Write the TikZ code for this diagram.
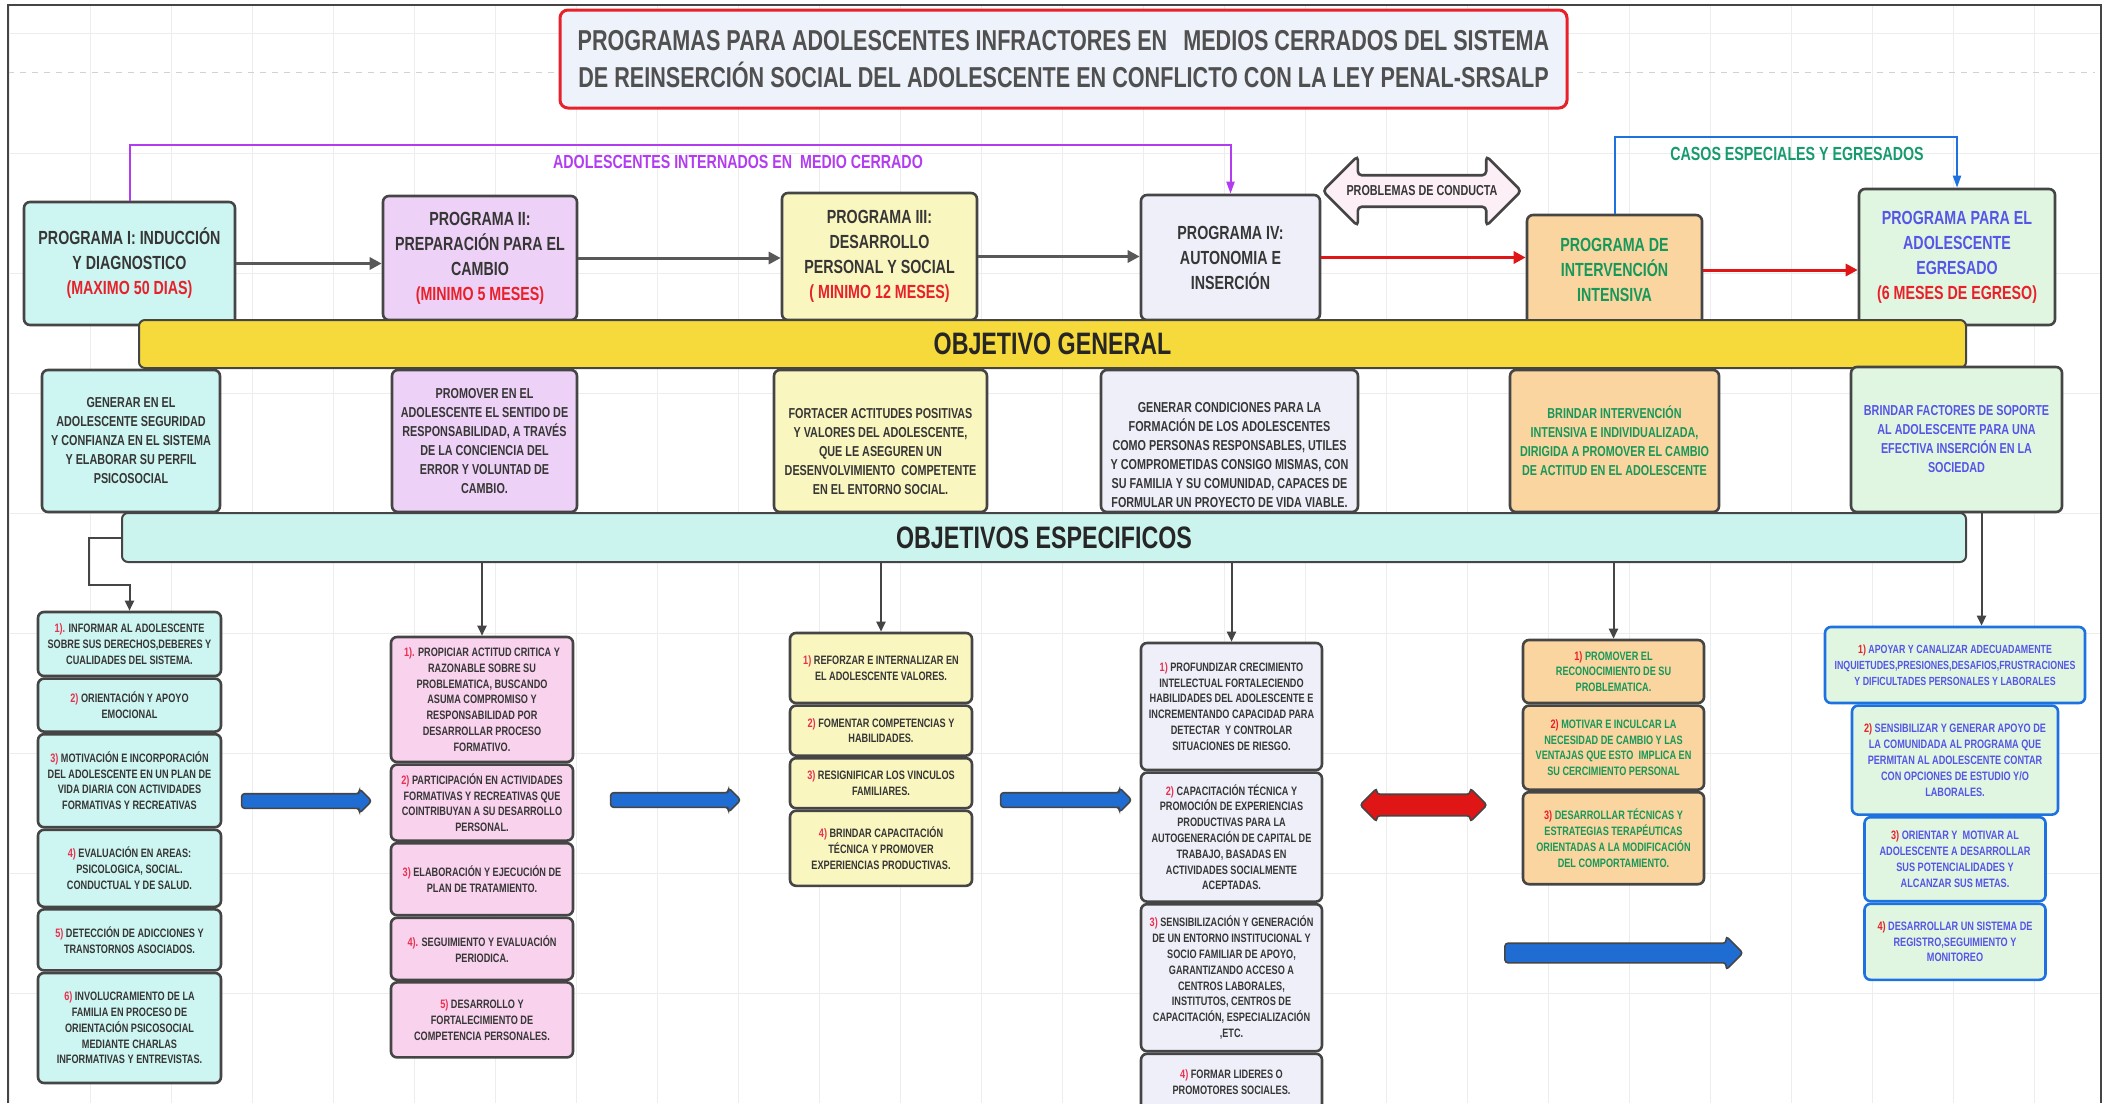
\documentclass[tikz,border=0pt]{standalone}
\usepackage{fontspec}
\setmainfont{Liberation Sans}[FakeStretch=0.75]
\usetikzlibrary{positioning,shapes.arrows,arrows.meta}

\definecolor{edgec}{HTML}{454545}
\definecolor{txt}{HTML}{363636}
\definecolor{tittxt}{HTML}{505050}
\definecolor{tred}{HTML}{E8202A}
\definecolor{nred}{HTML}{E8304F}
\definecolor{tgreen}{HTML}{17985A}
\definecolor{tteal}{HTML}{169A70}
\definecolor{tblue}{HTML}{5555E8}
\definecolor{cyanbox}{HTML}{CDF5F1}
\definecolor{lilabox}{HTML}{EDD1F6}
\definecolor{pinkbox}{HTML}{F9D3EE}
\definecolor{yelbox}{HTML}{FAF6BF}
\definecolor{lavbox}{HTML}{EFEFFA}
\definecolor{orabox}{HTML}{FAD59F}
\definecolor{grebox}{HTML}{E1F6E1}
\definecolor{titbox}{HTML}{EEF2FA}
\definecolor{goldbar}{HTML}{F6D93A}
\definecolor{cyanbar}{HTML}{CBF4EF}
\definecolor{pinkarrow}{HTML}{FCEFF6}
\definecolor{lineviolet}{HTML}{B23CF0}
\definecolor{lineblue}{HTML}{1E72E0}
\definecolor{arrblue}{HTML}{1F6CD2}
\definecolor{arrred}{HTML}{E01515}
\definecolor{gridc}{HTML}{EDEDED}

\newcommand{\titfont}{\bfseries\fontsize{14.4}{18.5}\selectfont}
\newcommand{\progfont}{\bfseries\fontsize{9.5}{12.5}\selectfont}
\newcommand{\genfont}{\bfseries\fontsize{7.2}{9.5}\selectfont}
\newcommand{\specfont}{\bfseries\fontsize{6.1}{7.9}\selectfont}
\newcommand{\barfont}{\bfseries\fontsize{15.5}{17}\selectfont}
\newcommand{\labfont}{\bfseries\fontsize{9.5}{11}\selectfont}
\newcommand{\numred}[1]{\textcolor{nred}{#1}}

\tikzset{
  gridline/.style={draw=gridc, line width=0.5pt},
  box/.style={draw=edgec, line width=1.3pt, rounded corners=3pt, align=center,
    text=txt, inner sep=1pt},
  prog/.style={box, font=\progfont},
  gen/.style={box, font=\genfont, minimum height=71pt},
  spec/.style={box, font=\specfont},
  bar/.style={box, font=\barfont, line width=1pt, text=black!85},
  lab/.style={font=\labfont, inner sep=1pt},
  flow/.style={draw=edgec!90, line width=1.5pt, -{Triangle[length=6pt,width=6pt]}},
  redflow/.style={flow, draw=arrred, -{Triangle[length=6pt,width=6pt]}},
  route/.style={line width=1pt, -{Triangle[length=6pt,width=4pt]}},
  down/.style={draw=edgec, line width=1pt, -{Triangle[length=5pt,width=4.5pt]}},
  blockarrow/.style={single arrow, draw=edgec, line width=0.8pt, fill=arrblue,
    rounded corners=1.5pt, inner sep=3.25pt, single arrow head extend=2.5pt},
  twoarrow/.style={double arrow, draw=edgec, line width=0.8pt, fill=arrred,
    rounded corners=1.5pt, inner sep=5pt, double arrow head extend=3pt}
}

\begin{document}
\begin{tikzpicture}[x=0.5pt,y=-0.5pt]
\useasboundingbox (0,0) rectangle (2107,1103);

% background grid and frame
\foreach \gx in {9,90,...,2100}
  \draw[gridline] (\gx,5) -- (\gx,1103);
\foreach \gy in {33,153,...,1100}
  \draw[gridline] (8,\gy) -- (2101,\gy);
\draw[gridline, draw=gray!35, dashed] (8,72) -- (555,72);
\draw[gridline, draw=gray!35, dashed] (1577,72) -- (2095,72);
\draw[draw=edgec, line width=1pt] (8,1103) -- (8,5) -- (2101,5) -- (2101,1103);

% title
\node[draw=tred, line width=1.5pt, rounded corners=4pt, fill=titbox, text=tittxt,
  font=\titfont, align=center, minimum width=503.5pt, minimum height=49pt]
  (title) at (1063.5,59)
  {PROGRAMAS PARA ADOLESCENTES INFRACTORES EN\hspace{8pt}MEDIOS CERRADOS DEL SISTEMA\\
   DE REINSERCIÓN SOCIAL DEL ADOLESCENTE EN CONFLICTO CON LA LEY PENAL-SRSALP};

% programas
\node[prog, fill=cyanbox, minimum width=105.5pt, minimum height=61.5pt] (p1) at (129.5,263.5)
  {PROGRAMA I: INDUCCIÓN\\Y DIAGNOSTICO\\\textcolor{tred}{(MAXIMO 50 DIAS)}};
\node[prog, fill=lilabox, minimum width=97pt, minimum height=62pt] (p2) at (480,258)
  {PROGRAMA II:\\PREPARACIÓN PARA EL\\CAMBIO\\\textcolor{tred}{(MINIMO 5 MESES)}};
\node[prog, fill=yelbox, minimum width=97.5pt, minimum height=63.5pt] (p3) at (879.5,256.5)
  {PROGRAMA III:\\DESARROLLO\\PERSONAL Y SOCIAL\\\textcolor{tred}{( MINIMO 12 MESES)}};
\node[prog, fill=lavbox, minimum width=89.5pt, minimum height=62.5pt] (p4) at (1230.5,257.5)
  {PROGRAMA IV:\\AUTONOMIA E\\INSERCIÓN};
\node[prog, fill=orabox, text=tgreen, minimum width=87.5pt, minimum height=55pt] (p5) at (1614.5,270)
  {PROGRAMA DE\\INTERVENCIÓN\\INTENSIVA};
\node[prog, fill=grebox, text=tblue, minimum width=98pt, minimum height=68pt] (p6) at (1957,257)
  {PROGRAMA PARA EL\\ADOLESCENTE\\EGRESADO\\\textcolor{tred}{(6 MESES DE EGRESO)}};

\node[double arrow, draw=edgec, line width=1.3pt, fill=pinkarrow, rounded corners=2pt,
  minimum height=83pt, minimum width=35pt, double arrow head extend=8pt,
  font=\bfseries\fontsize{7.2}{8}\selectfont, text=txt] (conducta) at (1422,191)
  {PROBLEMAS DE CONDUCTA};

\draw[flow] (p1.east) -- (p1.east -| p2.west);
\draw[flow] (p2.east) -- (p2.east -| p3.west);
\draw[flow] (p3.east) -- (p3.east -| p4.west);
\draw[redflow] (p4.east) -- (p4.east -| p5.west);
\draw[redflow] (p5.east) -- (p5.east -| p6.west);

\draw[route, draw=lineviolet] (p1.north) -- ++(0,-56) -| (p4.north);
\node[lab, text=lineviolet] (internados) at (738,162) {ADOLESCENTES INTERNADOS EN\ \ MEDIO CERRADO};
\draw[route, draw=lineblue] (p5.north) -- ++(0,-77) -| (p6.north);
\node[lab, text=tteal] (casos) at (1797,154) {CASOS ESPECIALES Y EGRESADOS};

% objetivo general
\node[bar, fill=goldbar, minimum width=913.5pt, minimum height=24pt] (og) at (1052.5,344)
  {OBJETIVO GENERAL};

\node[gen, fill=cyanbox, minimum width=89pt] (g1) at (131,441)
  {GENERAR EN EL\\ADOLESCENTE SEGURIDAD\\Y CONFIANZA EN EL SISTEMA\\Y ELABORAR SU PERFIL\\PSICOSOCIAL};
\node[gen, fill=lilabox, minimum width=92.5pt] (g2) at (484.5,441)
  {PROMOVER EN EL\\ADOLESCENTE EL SENTIDO DE\\RESPONSABILIDAD, A TRAVÉS\\DE LA CONCIENCIA DEL\\ERROR Y VOLUNTAD DE\\CAMBIO.};
\node[gen, fill=yelbox, minimum width=106.5pt] (g3) at (880.5,441)
  {\rule{0pt}{16pt}FORTACER ACTITUDES POSITIVAS\\Y VALORES DEL ADOLESCENTE,\\QUE LE ASEGUREN UN\\DESENVOLVIMIENTO\ \ COMPETENTE\\EN EL ENTORNO SOCIAL.};
\node[gen, fill=lavbox, minimum width=128.5pt] (g4) at (1229.5,441)
  {\rule{0pt}{19pt}GENERAR CONDICIONES PARA LA\\FORMACIÓN DE LOS ADOLESCENTES\\COMO PERSONAS RESPONSABLES, UTILES\\Y COMPROMETIDAS CONSIGO MISMAS, CON\\SU FAMILIA Y SU COMUNIDAD, CAPACES DE\\FORMULAR UN PROYECTO DE VIDA VIABLE.};
\node[gen, fill=orabox, text=tgreen, minimum width=104.5pt] (g5) at (1614.5,441)
  {BRINDAR INTERVENCIÓN\\INTENSIVA E INDIVIDUALIZADA,\\DIRIGIDA A PROMOVER EL CAMBIO\\DE ACTITUD EN EL ADOLESCENTE};
\node[gen, fill=grebox, text=tblue, minimum width=105.5pt, minimum height=72.5pt] (g6) at (1956.5,439.5)
  {BRINDAR FACTORES DE SOPORTE\\AL ADOLESCENTE PARA UNA\\EFECTIVA INSERCIÓN EN LA\\SOCIEDAD};

% objetivos especificos
\node[bar, fill=cyanbar, minimum width=922pt, minimum height=24.5pt] (es) at (1044,537.5)
  {OBJETIVOS ESPECIFICOS};

% columna 1
\node[spec, fill=cyanbox, minimum width=91.5pt, minimum height=32pt] (s1a) at (129.5,644)
  {\numred{1).} INFORMAR AL ADOLESCENTE\\SOBRE SUS DERECHOS,DEBERES Y\\CUALIDADES DEL SISTEMA.};
\node[spec, fill=cyanbox, minimum width=91.5pt, minimum height=26.5pt, below=0pt of s1a] (s1b)
  {\numred{2)} ORIENTACIÓN Y APOYO\\EMOCIONAL};
\node[spec, fill=cyanbox, minimum width=91.5pt, minimum height=46.5pt, below=0pt of s1b] (s1c)
  {\numred{3)} MOTIVACIÓN E INCORPORACIÓN\\DEL ADOLESCENTE EN UN PLAN DE\\VIDA DIARIA CON ACTIVIDADES\\FORMATIVAS Y RECREATIVAS};
\node[spec, fill=cyanbox, minimum width=91.5pt, minimum height=38.5pt, below=0pt of s1c] (s1d)
  {\numred{4)} EVALUACIÓN EN AREAS:\\PSICOLOGICA, SOCIAL.\\CONDUCTUAL Y DE SALUD.};
\node[spec, fill=cyanbox, minimum width=91.5pt, minimum height=30.5pt, below=0pt of s1d] (s1e)
  {\numred{5)} DETECCIÓN DE ADICCIONES Y\\TRANSTORNOS ASOCIADOS.};
\node[spec, fill=cyanbox, minimum width=91.5pt, minimum height=55pt, below=0pt of s1e] (s1f)
  {\numred{6)} INVOLUCRAMIENTO DE LA\\FAMILIA EN PROCESO DE\\ORIENTACIÓN PSICOSOCIAL\\MEDIANTE CHARLAS\\INFORMATIVAS Y ENTREVISTAS.};

% columna 2
\node[spec, fill=pinkbox, minimum width=91pt, minimum height=62.5pt] (s2a) at (482,699.5)
  {\numred{1).} PROPICIAR ACTITUD CRITICA Y\\RAZONABLE SOBRE SU\\PROBLEMATICA, BUSCANDO\\ASUMA COMPROMISO Y\\RESPONSABILIDAD POR\\DESARROLLAR PROCESO\\FORMATIVO.};
\node[spec, fill=pinkbox, minimum width=91pt, minimum height=38pt, below=0pt of s2a] (s2b)
  {\numred{2)} PARTICIPACIÓN EN ACTIVIDADES\\FORMATIVAS Y RECREATIVAS QUE\\COINTRIBUYAN A SU DESARROLLO\\PERSONAL.};
\node[spec, fill=pinkbox, minimum width=91pt, minimum height=36pt, below=0pt of s2b] (s2c)
  {\numred{3)} ELABORACIÓN Y EJECUCIÓN DE\\PLAN DE TRATAMIENTO.};
\node[spec, fill=pinkbox, minimum width=91pt, minimum height=31pt, below=0pt of s2c] (s2d)
  {\numred{4).} SEGUIMIENTO Y EVALUACIÓN\\PERIODICA.};
\node[spec, fill=pinkbox, minimum width=91pt, minimum height=37.5pt, below=0pt of s2d] (s2e)
  {\numred{5)} DESARROLLO Y\\FORTALECIMIENTO DE\\COMPETENCIA PERSONALES.};

% columna 3
\node[spec, fill=yelbox, minimum width=91pt, minimum height=35pt] (s3a) at (881,668)
  {\numred{1)} REFORZAR E INTERNALIZAR EN\\EL ADOLESCENTE VALORES.};
\node[spec, fill=yelbox, minimum width=91pt, minimum height=25pt, below=0pt of s3a] (s3b)
  {\numred{2)} FOMENTAR COMPETENCIAS Y\\HABILIDADES.};
\node[spec, fill=yelbox, minimum width=91pt, minimum height=25pt, below=0pt of s3b] (s3c)
  {\numred{3)} RESIGNIFICAR LOS VINCULOS\\FAMILIARES.};
\node[spec, fill=yelbox, minimum width=91pt, minimum height=37.5pt, below=0pt of s3c] (s3d)
  {\numred{4)} BRINDAR CAPACITACIÓN\\TÉCNICA Y PROMOVER\\EXPERIENCIAS PRODUCTIVAS.};

% columna 4
\node[spec, fill=lavbox, minimum width=90.5pt, minimum height=63.5pt] (s4a) at (1231.5,706.5)
  {\numred{1)} PROFUNDIZAR CRECIMIENTO\\INTELECTUAL FORTALECIENDO\\HABILIDADES DEL ADOLESCENTE E\\INCREMENTANDO CAPACIDAD PARA\\DETECTAR\ \ Y CONTROLAR\\SITUACIONES DE RIESGO.};
\node[spec, fill=lavbox, minimum width=90.5pt, minimum height=64.5pt, below=0pt of s4a] (s4b)
  {\numred{2)} CAPACITACIÓN TÉCNICA Y\\PROMOCIÓN DE EXPERIENCIAS\\PRODUCTIVAS PARA LA\\AUTOGENERACIÓN DE CAPITAL DE\\TRABAJO, BASADAS EN\\ACTIVIDADES SOCIALMENTE\\ACEPTADAS.};
\node[spec, fill=lavbox, minimum width=90.5pt, minimum height=73.5pt, below=0pt of s4b] (s4c)
  {\numred{3)} SENSIBILIZACIÓN Y GENERACIÓN\\DE UN ENTORNO INSTITUCIONAL Y\\SOCIO FAMILIAR DE APOYO,\\GARANTIZANDO ACCESO A\\CENTROS LABORALES,\\INSTITUTOS, CENTROS DE\\CAPACITACIÓN, ESPECIALIZACIÓN\\,ETC.};
\node[spec, fill=lavbox, minimum width=90.5pt, minimum height=28pt, below=0pt of s4c] (s4d)
  {\numred{4)} FORMAR LIDERES O\\PROMOTORES SOCIALES.};

% columna 5
\node[spec, fill=orabox, text=tgreen, minimum width=90.5pt, minimum height=31.5pt] (s5a) at (1613.5,671.5)
  {\textcolor{tred}{1)} PROMOVER EL\\RECONOCIMIENTO DE SU\\PROBLEMATICA.};
\node[spec, fill=orabox, text=tgreen, minimum width=90.5pt, minimum height=42pt, below=0pt of s5a] (s5b)
  {\textcolor{tred}{2)} MOTIVAR E INCULCAR LA\\NECESIDAD DE CAMBIO Y LAS\\VENTAJAS QUE ESTO\ \ IMPLICA EN\\SU CERCIMIENTO PERSONAL};
\node[spec, fill=orabox, text=tgreen, minimum width=90.5pt, minimum height=46pt, below=0pt of s5b] (s5c)
  {\textcolor{tred}{3)} DESARROLLAR TÉCNICAS Y\\ESTRATEGIAS TERAPÉUTICAS\\ORIENTADAS A LA MODIFICACIÓN\\DEL COMPORTAMIENTO.};

% columna 6
\node[spec, draw=lineblue, fill=grebox, text=tblue, minimum width=130pt, minimum height=38pt,
  font=\bfseries\fontsize{5.9}{7.9}\selectfont] (s6a) at (1955,665)
  {\textcolor{tred}{1)} APOYAR Y CANALIZAR ADECUADAMENTE\\INQUIETUDES,PRESIONES,DESAFIOS,FRUSTRACIONES\\Y DIFICULTADES PERSONALES Y LABORALES};
\node[spec, draw=lineblue, fill=grebox, text=tblue, minimum width=103pt, minimum height=54.5pt, below=0pt of s6a] (s6b)
  {\textcolor{tred}{2)} SENSIBILIZAR Y GENERAR APOYO DE\\LA COMUNIDADA AL PROGRAMA QUE\\PERMITAN AL ADOLESCENTE CONTAR\\CON OPCIONES DE ESTUDIO Y/O\\LABORALES.};
\node[spec, draw=lineblue, fill=grebox, text=tblue, minimum width=90.5pt, minimum height=42pt, below=0pt of s6b] (s6c)
  {\textcolor{tred}{3)} ORIENTAR Y\ \ MOTIVAR AL\\ADOLESCENTE A DESARROLLAR\\SUS POTENCIALIDADES Y\\ALCANZAR SUS METAS.};
\node[spec, draw=lineblue, fill=grebox, text=tblue, minimum width=90.5pt, minimum height=38pt, below=0pt of s6c] (s6d)
  {\textcolor{tred}{4)} DESARROLLAR UN SISTEMA DE\\REGISTRO,SEGUIMIENTO Y\\MONITOREO};

\draw[down] (es.west) -- ++(-32,0) -- ++(0,47) -| (s1a.north);
\draw[down] (es.south -| s2a.north) -- (s2a.north);
\draw[down] (es.south -| s3a.north) -- (s3a.north);
\draw[down] (es.south -| s4a.north) -- (s4a.north);
\draw[down] (es.south -| s5a.north) -- (s5a.north);
\draw[down] ([xshift=12.5pt]g6.south) -- ([xshift=12.5pt]g6.south |- s6a.north);

% flechas de bloque
\node[blockarrow, minimum height=65pt] (ba1) at (303,801) {};
\node[blockarrow, minimum height=65pt] (ba2) at (672,800) {};
\node[blockarrow, minimum height=65.5pt] (ba3) at (1062.5,800) {};
\node[twoarrow, minimum height=63.5pt] (bd) at (1423.5,805) {};
\node[blockarrow, minimum height=119pt, inner sep=4.5pt, single arrow head extend=3.5pt] (ba4) at (1619,953) {};
\end{tikzpicture}
\end{document}
